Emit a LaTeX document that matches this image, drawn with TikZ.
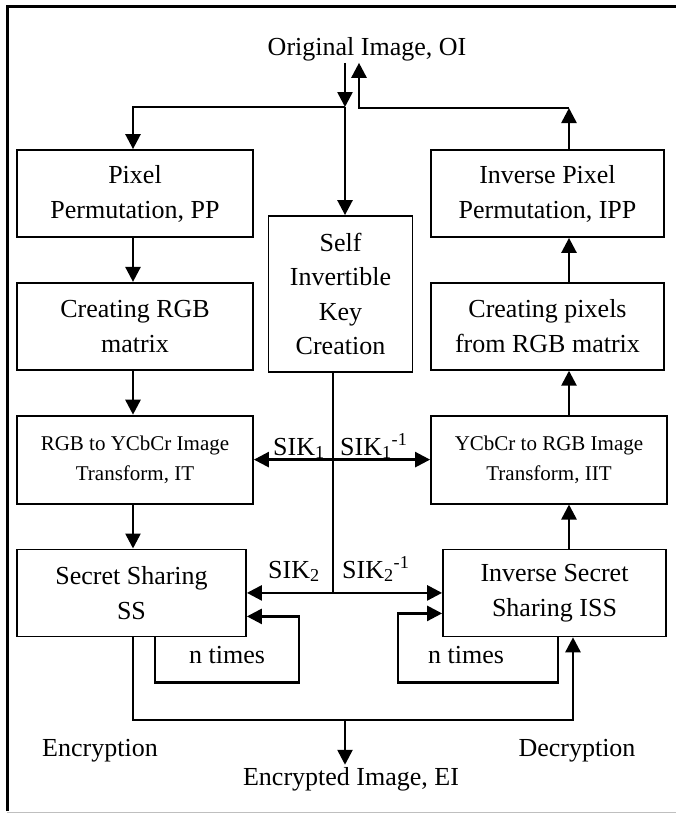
\documentclass[tikz,border=0pt]{standalone}
\usepackage{fontspec}
\setmainfont{Liberation Serif}
\usetikzlibrary{arrows.meta, positioning}
\tikzset{
  box/.style={rectangle,draw,line width=1.8pt,align=center,inner sep=0pt,minimum width=236pt,minimum height=87pt,font=\fontsize{26}{35}\selectfont},
  smallbox/.style={box,minimum height=88pt,font=\fontsize{21}{30}\selectfont},
  tag/.style={inner sep=2pt,font=\fontsize{26}{32}\selectfont},
  line/.style={-{Triangle[length=15pt,width=15pt]},line width=2.6pt},
  dline/.style={{Triangle[length=15pt,width=15pt]}-{Triangle[length=15pt,width=15pt]},line width=2.6pt}
}

\begin{document}
\begin{tikzpicture}[x=1pt,y=-1pt,node distance=44pt]
\useasboundingbox (0,0) rectangle (676,814);
% frame
\draw[line width=3pt] (7,811) -- (7,6) -- (676,6);
\draw[black!25,line width=1pt] (7,812) -- (676,812);

% encryption side
\node[box] (pp) at (135,193.5) {Pixel\\Permutation, PP};
\node[box, below=of pp] (crgb) {Creating RGB\\matrix};
\node[smallbox, below=of crgb] (rgbycc) {RGB to YCbCr Image\\Transform, IT};
\node[box, below=of rgbycc, minimum width=229pt, xshift=-3.5pt] (ss) {Secret Sharing\\SS};

% key
\node[box, minimum width=144pt, minimum height=156pt, font=\fontsize{26}{34.5}\selectfont] (sik) at (340.5,294) {Self\\Invertible\\Key\\Creation};

% decryption side
\node[box, minimum width=233pt] (ipp) at (547.5,193.5) {Inverse Pixel\\Permutation, IPP};
\node[box, minimum width=233pt, below=of ipp] (cpix) {Creating pixels\\from RGB matrix};
\node[smallbox, below=of cpix, xshift=1.5pt] (yccrgb) {YCbCr to RGB Image\\Transform, IIT};
\node[box, below=of yccrgb, minimum width=223pt, xshift=5.5pt] (iss) {Inverse Secret\\Sharing ISS};

% texts
\node[tag, anchor=base] (oi) at (367,55) {Original Image, OI};
\node[tag, anchor=base] (ei) at (351,785) {Encrypted Image, EI};
\node[tag, anchor=base] (encr) at (100,756) {Encryption};
\node[tag, anchor=base] (decr) at (577,756) {Decryption};
\node[tag, anchor=base] (ntl) at (227,663) {n times};
\node[tag, anchor=base] (ntr) at (466,663) {n times};
\node[tag, anchor=base west] (k1) at (271,455) {SIK\textsubscript{1}};
\node[tag, anchor=base west] (k1i) at (338,455) {SIK\textsubscript{1}\textsuperscript{-1}};
\node[tag, anchor=base west] (k2) at (266,578) {SIK\textsubscript{2}};
\node[tag, anchor=base west] (k2i) at (340,578) {SIK\textsubscript{2}\textsuperscript{-1}};

\coordinate (split) at (345,107);
\coordinate (join) at (359,108);
\coordinate (ret) at (569,108);
\coordinate (lx) at (133,0);
\coordinate (rx) at (569,0);
\coordinate (bus) at (345,720);

% top
\draw[line] (oi.south -| split) -- (split);
\draw[line] (split) -| (pp.north -| lx);
\draw[line] (split) -- (split |- sik.north);
\draw[line] (ipp.north -| rx) -- (ret);
\draw[line] (ret) -| (oi.south -| join);

% columns
\foreach \a/\b in {pp/crgb, crgb/rgbycc, rgbycc/ss}
  \draw[line] (\a.south -| lx) -- (\b.north -| lx);
\foreach \a/\b in {iss/yccrgb, yccrgb/cpix, cpix/ipp}
  \draw[line] (\a.north -| rx) -- (\b.south -| rx);

% keys
\draw[line width=1.5pt] ([xshift=-7.5pt]sik.south) -- ([xshift=-7.5pt]sik.south |- ss.east);
\draw[dline] (rgbycc.east) -- (yccrgb.west);
\draw[dline] (ss.east) -- (iss.west);

% n times loops
\draw[line] ([xshift=23.5pt]ss.south) -- ++(0,45) -| ([xshift=52pt,yshift=-23.5pt]ss.east) -- ([yshift=-23.5pt]ss.east);
\draw[line] ([xshift=3.5pt]iss.south) -- ++(0,45) -| ([xshift=-44pt,yshift=-20.5pt]iss.west) -- ([yshift=-20.5pt]iss.west);

% bottom
\draw[line] (ss.south -| lx) |- (bus) -| ([xshift=18.5pt]iss.south);
\draw[line] (bus) -- (bus |- ei.north);
\end{tikzpicture}
\end{document}
